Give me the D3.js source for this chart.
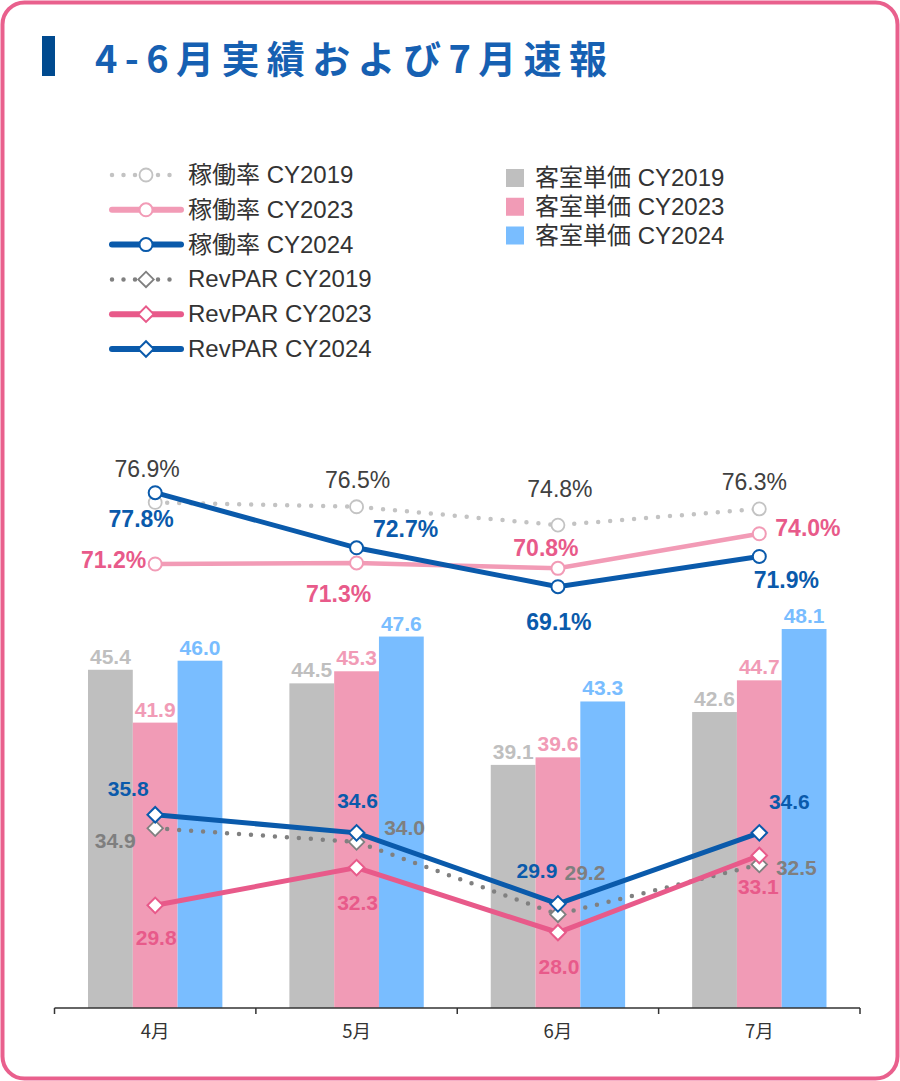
<!DOCTYPE html>
<html>
<head>
<meta charset="utf-8">
<script src="https://cdn.jsdelivr.net/npm/d3@7"></script>
<style>
  html, body { margin: 0; padding: 0; background: #fff; }
  svg { display: block; }
</style>
</head>
<body>
<svg id="chart" width="900" height="1081"></svg>
<script>
// ---- data ----
const months = ["4月", "5月", "6月", "7月"];
const barSeries = ["CY2019", "CY2023", "CY2024"];

// 客室単価 (bars, left axis)
const adr2019 = [45.4, 44.5, 39.1, 42.6];
const adr2023 = [41.9, 45.3, 39.6, 44.7];
const adr2024 = [46.0, 47.6, 43.3, 48.1];

// 稼働率 (%, right axis)
const occ2019 = [76.9, 76.5, 74.8, 76.3];
const occ2023 = [71.2, 71.3, 70.8, 74.0];
const occ2024 = [77.8, 72.7, 69.1, 71.9];

// RevPAR (left axis)
const rev2019 = [34.9, 34.0, 29.2, 32.5];
const rev2023 = [29.8, 32.3, 28.0, 33.1];
const rev2024 = [35.8, 34.6, 29.9, 34.6];

const legendLines = ["稼働率 CY2019", "稼働率 CY2023", "稼働率 CY2024",
                     "RevPAR CY2019", "RevPAR CY2023", "RevPAR CY2024"];
const legendBars = ["客室単価 CY2019", "客室単価 CY2023", "客室単価 CY2024"];

// label placement (dx, dy from the point, anchor)
const occ2019Lbl = [[-8, -25, "middle"], [1, -19, "middle"], [2, -28, "middle"], [-5, -19, "middle"]];
const occ2023Lbl = [[-9, 4, "end"], [-18, 39, "middle"], [-12, -12, "middle"], [16, 2, "start"]];
const occ2024Lbl = [[-14, 34, "middle"], [49, -11, "middle"], [1, 43, "middle"], [27, 32, "middle"]];
const rev2019Lbl = [[-40, 20, "middle"], [48, -7, "middle"], [27, -34, "middle"], [37, 10, "middle"]];
const rev2023Lbl = [[1, 40, "middle"], [1, 42, "middle"], [1, 41, "middle"], [-1, 39, "middle"]];
const rev2024Lbl = [[-27, -19, "middle"], [1, -25, "middle"], [-21, -26, "middle"], [30, -24, "middle"]];

const FONT = "'Liberation Sans', Arial, 'Noto Sans CJK JP', sans-serif";
const C = {
  gray: "#bfbfbf", pinkBar: "#f19bb6", blueBar: "#79bdff",
  blue: "#0a5aab", pink: "#e85a8a", occPink: "#f29bb6",
  occGray: "#c3c3c3", revGray: "#808080", text: "#333333"
};

const svg = d3.select("#chart");

// frame
svg.append("rect")
  .attr("x", 2.5).attr("y", 2.5).attr("width", 895).attr("height", 1076)
  .attr("rx", 22).attr("fill", "#fff")
  .attr("stroke", "#e9608d").attr("stroke-width", 4);

// title
svg.append("rect").attr("x", 42).attr("y", 36).attr("width", 13).attr("height", 40)
  .attr("fill", "#004a8f");
svg.append("text")
  .attr("x", 95).attr("y", 73)
  .attr("font-family", "'Noto Sans CJK JP', sans-serif")
  .attr("font-weight", "bold").attr("font-size", 38)
  .attr("fill", "#1660b2")
  .attr("textLength", 512).attr("lengthAdjust", "spacing")
  .text("4-6月実績および7月速報");

// scales
const x = d3.scaleBand().domain(months).range([54.5, 860]);
const xs = d3.scaleBand().domain(barSeries).range([0, x.bandwidth()])
  .paddingInner(0).paddingOuter(0.748);
const yL = d3.scaleLinear().domain([23, 48.1]).range([1008, 629]);
const yR = d3.scaleLinear().domain([69.1, 77.8]).range([586.7, 492.7]);
const xc = m => x(m) + x.bandwidth() / 2;

const g = svg.append("g");

// bars
const bars = [
  {name: "CY2019", vals: adr2019, color: C.gray},
  {name: "CY2023", vals: adr2023, color: C.pinkBar},
  {name: "CY2024", vals: adr2024, color: C.blueBar}
];
bars.forEach(s => {
  g.selectAll(null).data(s.vals).enter().append("rect")
    .attr("x", (d, i) => x(months[i]) + xs(s.name))
    .attr("y", d => yL(d))
    .attr("width", xs.bandwidth())
    .attr("height", d => yL.range()[0] - yL(d))
    .attr("fill", s.color);
  g.selectAll(null).data(s.vals).enter().append("text")
    .attr("x", (d, i) => x(months[i]) + xs(s.name) + xs.bandwidth() / 2)
    .attr("y", d => yL(d) - 6)
    .attr("text-anchor", "middle")
    .attr("font-family", FONT).attr("font-weight", "bold").attr("font-size", 21)
    .attr("fill", s.color)
    .text(d => d.toFixed(1));
});

// x axis: baseline, boundary ticks, month labels
const axisY = yL.range()[0];
g.append("line").attr("x1", x.range()[0]).attr("x2", x.range()[1])
  .attr("y1", axisY).attr("y2", axisY)
  .attr("stroke", "#333").attr("stroke-width", 1.5);
const bounds = months.map(m => x(m)).concat([x.range()[1]]);
g.selectAll(null).data(bounds).enter().append("line")
  .attr("x1", d => d).attr("x2", d => d)
  .attr("y1", axisY).attr("y2", axisY + 6)
  .attr("stroke", "#333").attr("stroke-width", 1.5);
g.selectAll(null).data(months).enter().append("text")
  .attr("x", d => xc(d)).attr("y", axisY + 30)
  .attr("text-anchor", "middle")
  .attr("font-family", "'Noto Sans CJK JP', sans-serif").attr("font-size", 18.5)
  .attr("fill", C.text)
  .text(d => d);

// marker helper
function addMarker(sel, kind, color, sw) {
  if (kind === "circle") {
    sel.append("circle").attr("r", 6.5)
      .attr("fill", "#fff").attr("stroke", color).attr("stroke-width", sw);
  } else {
    sel.append("path")
      .attr("d", d3.symbol(d3.symbolSquare, 120)())
      .attr("transform", "rotate(45)")
      .attr("fill", "#fff").attr("stroke", color).attr("stroke-width", sw);
  }
}

function drawSeries(o) {
  const line = d3.line().x((d, i) => xc(months[i])).y(d => o.y(d));
  const p = g.append("path").datum(o.vals).attr("d", line)
    .attr("fill", "none").attr("stroke", o.color).attr("stroke-width", o.width);
  if (o.dotted) p.attr("stroke-linecap", "round").attr("stroke-dasharray", "0 12");
  const pts = g.selectAll(null).data(o.vals).enter().append("g")
    .attr("transform", (d, i) => `translate(${xc(months[i])},${o.y(d)})`);
  addMarker(pts, o.marker, o.color, o.mWidth);
  g.selectAll(null).data(o.vals).enter().append("text")
    .attr("x", (d, i) => xc(months[i]) + o.lbl[i][0])
    .attr("y", (d, i) => o.y(d) + o.lbl[i][1])
    .attr("text-anchor", (d, i) => o.lbl[i][2])
    .attr("font-family", FONT).attr("font-size", o.fs)
    .attr("font-weight", o.bold ? "bold" : "normal")
    .attr("fill", o.tColor)
    .text(d => d.toFixed(1) + (o.pct ? "%" : ""));
}

// 稼働率 lines
drawSeries({vals: occ2019, y: yR, color: C.occGray, width: 4.5, dotted: true, marker: "circle",
  mWidth: 1.8, lbl: occ2019Lbl, fs: 23, bold: false, tColor: "#404040", pct: true});
drawSeries({vals: occ2023, y: yR, color: C.occPink, width: 4.5, marker: "circle",
  mWidth: 2, lbl: occ2023Lbl, fs: 23, bold: true, tColor: C.pink, pct: true});
drawSeries({vals: occ2024, y: yR, color: C.blue, width: 5, marker: "circle",
  mWidth: 2, lbl: occ2024Lbl, fs: 23, bold: true, tColor: C.blue, pct: true});

// RevPAR lines
drawSeries({vals: rev2019, y: yL, color: C.revGray, width: 4.5, dotted: true, marker: "diamond",
  mWidth: 1.8, lbl: rev2019Lbl, fs: 21, bold: true, tColor: "#7f7f7f"});
drawSeries({vals: rev2023, y: yL, color: C.pink, width: 5, marker: "diamond",
  mWidth: 2, lbl: rev2023Lbl, fs: 21, bold: true, tColor: C.pink});
drawSeries({vals: rev2024, y: yL, color: C.blue, width: 5, marker: "diamond",
  mWidth: 2, lbl: rev2024Lbl, fs: 21, bold: true, tColor: C.blue});

// legend (lines)
const legStyle = [
  {color: C.occGray, dotted: true, marker: "circle", w: 4.5, mw: 1.8},
  {color: C.occPink, marker: "circle", w: 6, mw: 2},
  {color: C.blue, marker: "circle", w: 6, mw: 2},
  {color: C.revGray, dotted: true, marker: "diamond", w: 4.5, mw: 1.8},
  {color: C.pink, marker: "diamond", w: 6, mw: 2},
  {color: C.blue, marker: "diamond", w: 6, mw: 2}
];
const legY = d3.scalePoint().domain(legendLines).range([175, 349]);
legendLines.forEach((name, i) => {
  const s = legStyle[i];
  const row = svg.append("g").attr("transform", `translate(0,${legY(name)})`);
  const ln = row.append("line").attr("x1", 112).attr("x2", 181).attr("y1", 0).attr("y2", 0)
    .attr("stroke", s.color).attr("stroke-width", s.w).attr("stroke-linecap", "round");
  if (s.dotted) ln.attr("stroke-dasharray", "0 11.5");
  const m = row.append("g").attr("transform", "translate(146,0)");
  addMarker(m, s.marker, s.color, s.mw);
  row.append("text").attr("x", 188).attr("y", 8)
    .attr("font-family", FONT).attr("font-size", 24).attr("fill", C.text)
    .text(name);
});

// legend (bars)
const barCols = [C.gray, C.pinkBar, C.blueBar];
const legY2 = d3.scalePoint().domain(legendBars).range([178, 235.5]);
legendBars.forEach((name, i) => {
  const row = svg.append("g").attr("transform", `translate(0,${legY2(name)})`);
  row.append("rect").attr("x", 506).attr("y", -9).attr("width", 18).attr("height", 18)
    .attr("fill", barCols[i]);
  row.append("text").attr("x", 535).attr("y", 8)
    .attr("font-family", FONT).attr("font-size", 24).attr("fill", C.text)
    .text(name);
});
</script>
</body>
</html>
